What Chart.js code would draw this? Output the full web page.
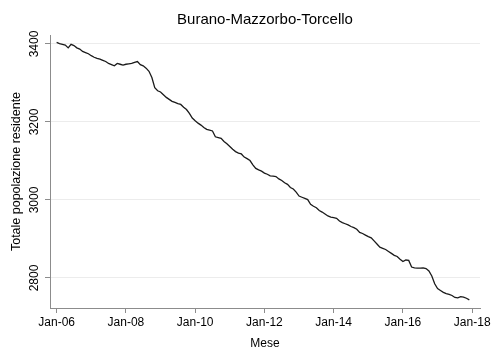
<!DOCTYPE html>
<html>
<head>
<meta charset="utf-8">
<script src="https://cdn.jsdelivr.net/npm/chart.js@4.4.1/dist/chart.umd.min.js"></script>
<style>
  html, body { margin: 0; padding: 0; background: #fff; }
  #wrap { width: 493px; height: 358px; }
</style>
</head>
<body>
<div id="wrap"><canvas id="chart" width="493" height="358"></canvas></div>
<script>
// Popolazione residente, mensile, gen 2006 - dic 2017
const pop2006 = [3404, 3401, 3399, 3397, 3390, 3399, 3396, 3390, 3387, 3381, 3378, 3375];
const pop2007 = [3370, 3366, 3363, 3361, 3358, 3355, 3350, 3347, 3344, 3350, 3348, 3346];
const pop2008 = [3348, 3349, 3350, 3353, 3355, 3347, 3344, 3338, 3330, 3314, 3288, 3280];
const pop2009 = [3277, 3270, 3263, 3258, 3253, 3250, 3247, 3245, 3238, 3232, 3222, 3210];
const pop2010 = [3203, 3197, 3192, 3186, 3181, 3179, 3177, 3162, 3160, 3158, 3150, 3144];
const pop2011 = [3137, 3130, 3124, 3120, 3118, 3110, 3106, 3101, 3090, 3081, 3077, 3074];
const pop2012 = [3069, 3066, 3062, 3061, 3060, 3054, 3050, 3044, 3040, 3032, 3028, 3020];
const pop2013 = [3010, 3007, 3004, 3001, 2989, 2984, 2980, 2973, 2969, 2964, 2959, 2956];
const pop2014 = [2955, 2953, 2946, 2942, 2939, 2936, 2932, 2929, 2925, 2917, 2914, 2910];
const pop2015 = [2906, 2903, 2895, 2887, 2879, 2876, 2873, 2868, 2863, 2858, 2855, 2848];
const pop2016 = [2842, 2846, 2845, 2828, 2826, 2825, 2825, 2826, 2824, 2818, 2805, 2785];
const pop2017 = [2773, 2768, 2763, 2760, 2758, 2755, 2750, 2749, 2752, 2751, 2748, 2744];

const xTickMonths = [0, 24, 48, 72, 96, 120, 144];
const xTickLabels = ['Jan-06', 'Jan-08', 'Jan-10', 'Jan-12', 'Jan-14', 'Jan-16', 'Jan-18'];
const yTickValues = [2800, 3000, 3200, 3400];

const FONT = '"Liberation Sans", Arial, Helvetica, sans-serif';
const AXIS_GREY = '#8c8c8c';

const values = [].concat(pop2006, pop2007, pop2008, pop2009, pop2010, pop2011,
  pop2012, pop2013, pop2014, pop2015, pop2016, pop2017);
const points = values.map(function(v, i) { return { x: i, y: v }; });

new Chart(document.getElementById('chart'), {
  type: 'line',
  data: {
    datasets: [{
      data: points,
      borderColor: '#1a1a1a',
      borderWidth: 1.3,
      pointRadius: 0,
      tension: 0,
      fill: false
    }]
  },
  options: {
    responsive: false,
    animation: false,
    layout: { padding: { left: 0, right: 13, top: 0, bottom: 0 } },
    plugins: {
      legend: { display: false },
      tooltip: { enabled: false },
      title: {
        display: true,
        text: 'Burano-Mazzorbo-Torcello',
        fullSize: false,
        color: '#000',
        font: { family: FONT, size: 15, weight: 'normal' },
        padding: { top: 11, bottom: 6 }
      }
    },
    scales: {
      x: {
        type: 'linear',
        min: -2.3,
        max: 146.7,
        afterBuildTicks: function(axis) {
          axis.ticks = xTickMonths.map(function(v) { return { value: v }; });
        },
        afterFit: function(axis) { axis.height = 50; },
        ticks: {
          autoSkip: false,
          maxRotation: 0,
          minRotation: 0,
          padding: 2,
          color: '#000',
          font: { family: FONT, size: 12 },
          callback: function(value) {
            const i = xTickMonths.indexOf(value);
            return i >= 0 ? xTickLabels[i] : '';
          }
        },
        grid: { drawOnChartArea: false, tickLength: 5, tickColor: AXIS_GREY },
        border: { color: AXIS_GREY, width: 1 },
        title: {
          display: true,
          text: 'Mese',
          color: '#000',
          font: { family: FONT, size: 12 },
          padding: { top: 0, bottom: 7 }
        }
      },
      y: {
        min: 2723,
        max: 3423,
        afterBuildTicks: function(axis) {
          axis.ticks = yTickValues.map(function(v) { return { value: v }; });
        },
        afterFit: function(axis) { axis.width = 50; },
        ticks: {
          minRotation: 90,
          maxRotation: 90,
          crossAlign: 'center',
          padding: -3,
          color: '#000',
          font: { family: FONT, size: 12 },
          callback: function(value) { return String(value); }
        },
        grid: { color: '#ececec', tickLength: 5, tickColor: AXIS_GREY },
        border: { color: AXIS_GREY, width: 1 },
        title: {
          display: true,
          text: 'Totale popolazione residente',
          color: '#000',
          font: { family: FONT, size: 12.5 },
          padding: { top: 9.5, bottom: 0 }
        }
      }
    }
  }
});
</script>
</body>
</html>
